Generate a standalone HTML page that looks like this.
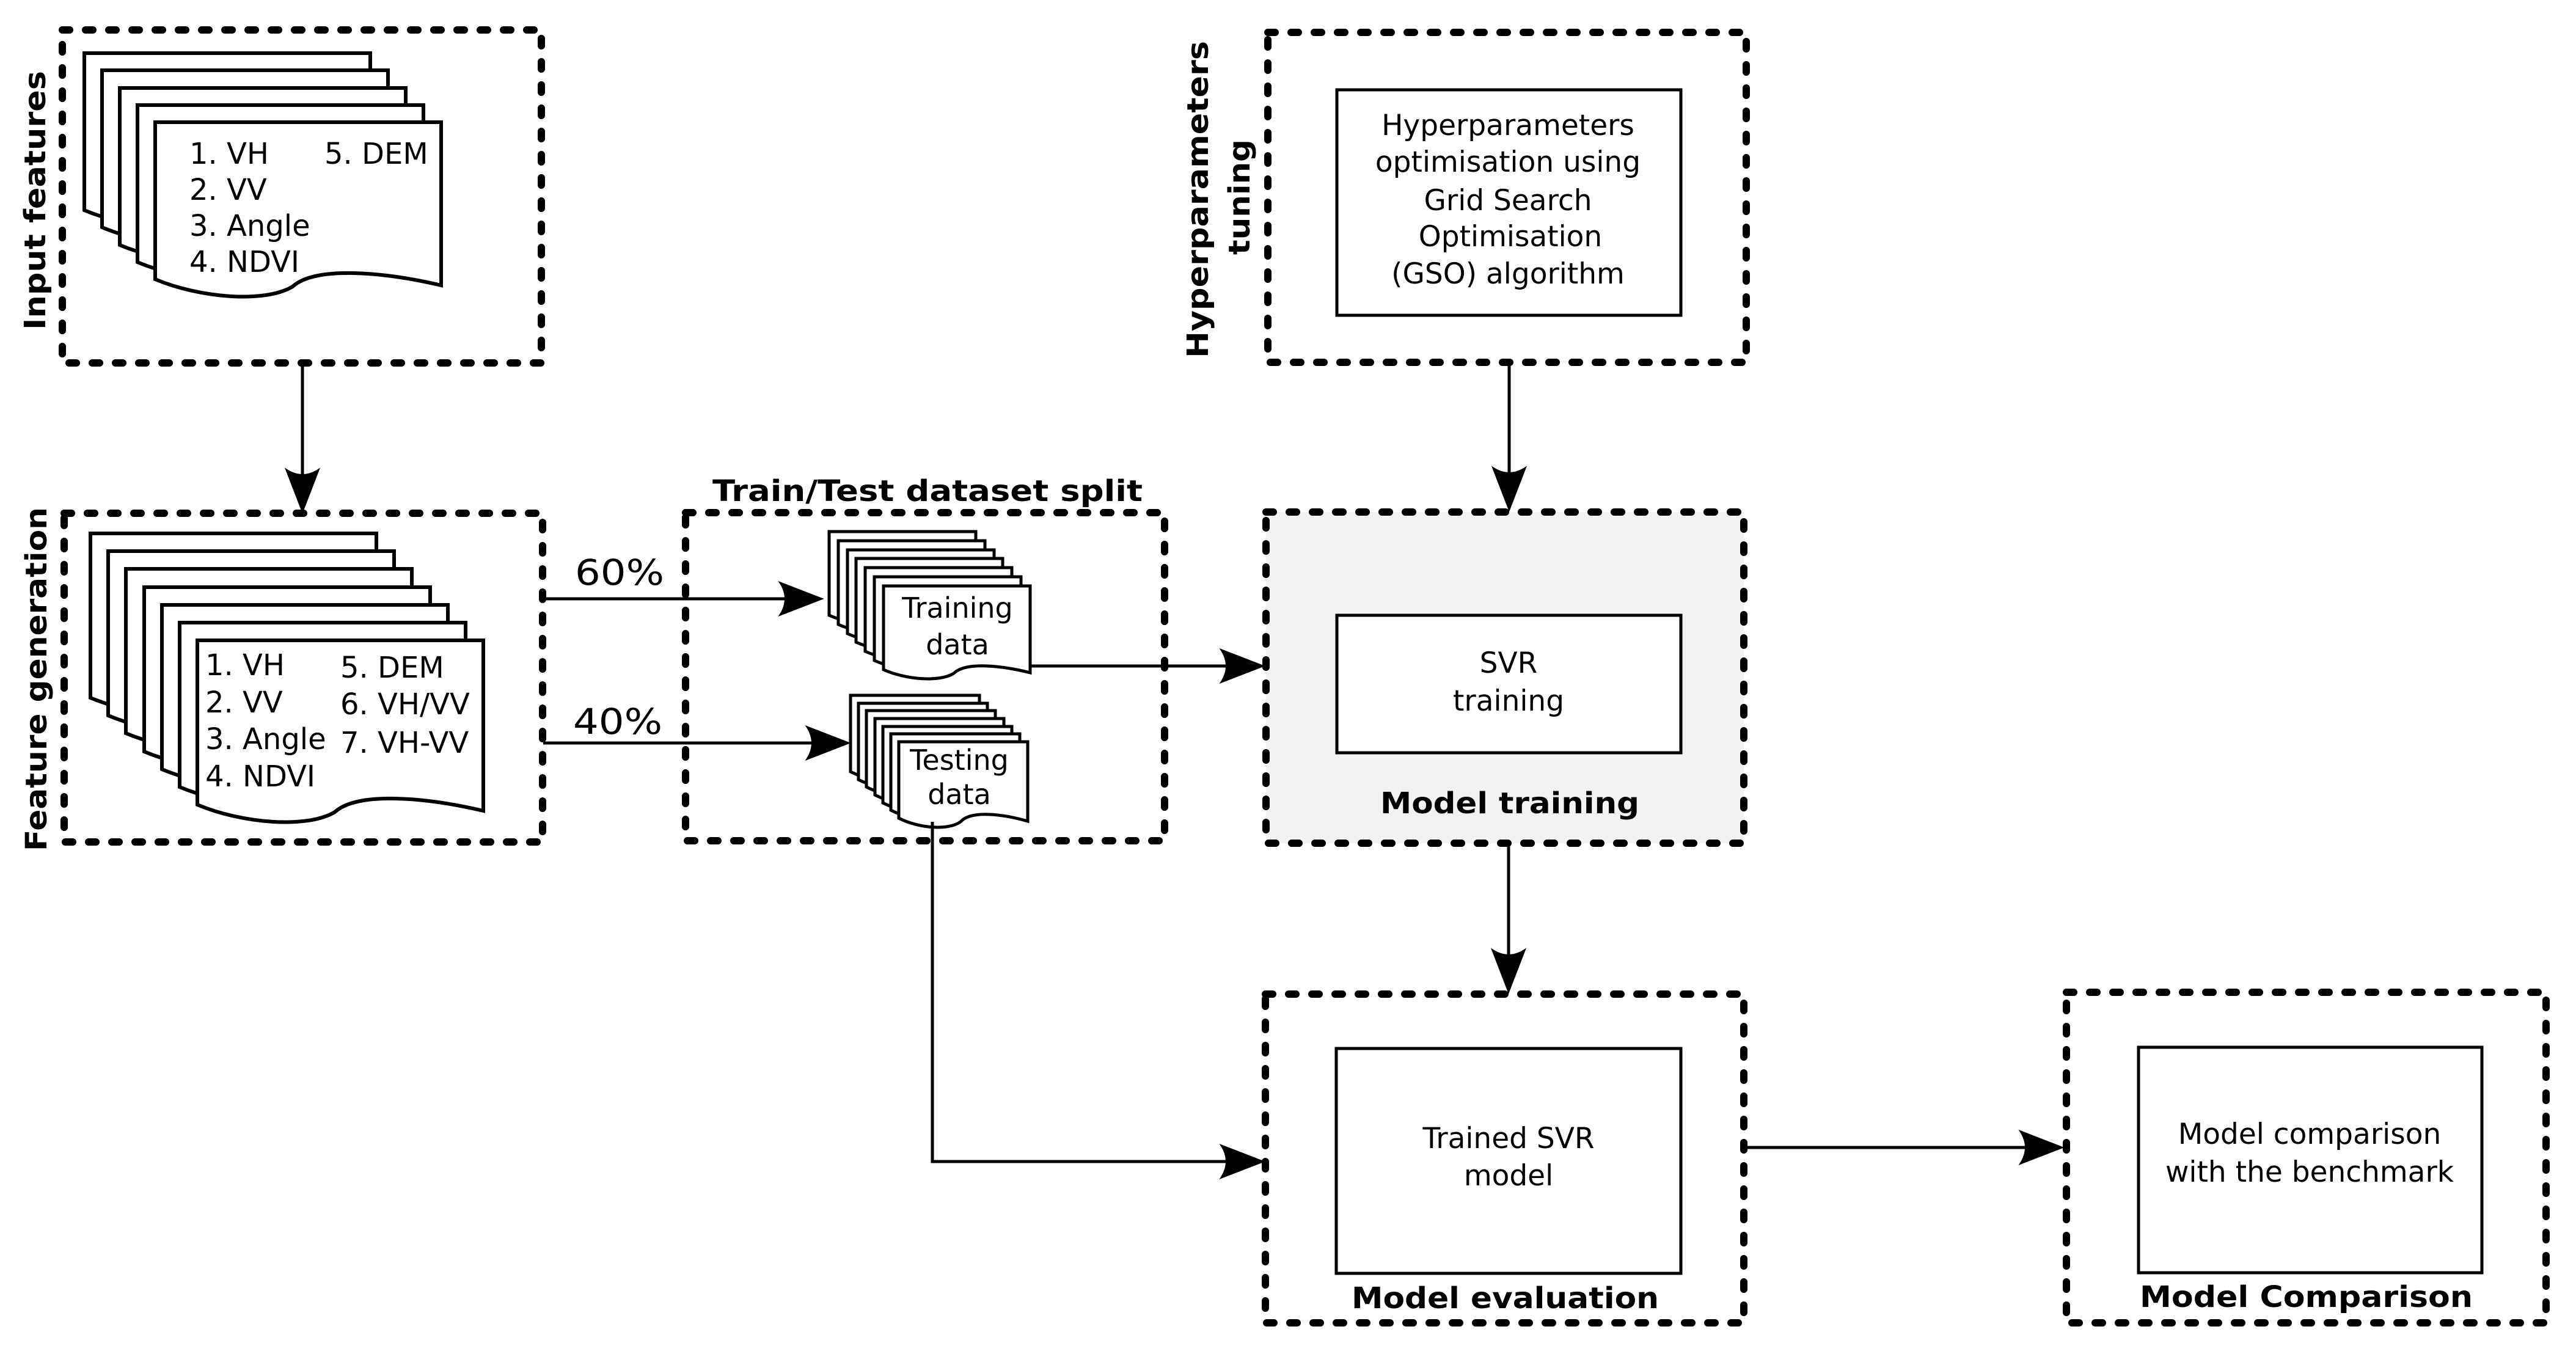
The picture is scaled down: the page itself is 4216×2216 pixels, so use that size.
<!DOCTYPE html>
<html><head><meta charset="utf-8"><style>html,body{margin:0;padding:0;background:#fff}svg{display:block}</style></head>
<body>
<svg xmlns="http://www.w3.org/2000/svg" width="4216" height="2216" viewBox="0 0 4216 2216" font-family="'DejaVu Sans','Liberation Sans',sans-serif">
<rect width="4216" height="2216" fill="#fff"/>
<g fill="#f2f2f2" stroke="none"><rect x="2072" y="838" width="782" height="542"/></g>
<g fill="none" stroke="#000" stroke-width="12" stroke-linecap="round" stroke-dasharray="12 26">
<rect x="102" y="49" width="784" height="545"/>
<rect x="105" y="840" width="783" height="538"/>
<rect x="1122" y="839" width="784" height="537"/>
<rect x="2075" y="53" width="783" height="540"/>
<rect x="2072" y="838" width="782" height="542"/>
<rect x="2071" y="1627" width="783" height="538"/>
<rect x="3382" y="1624" width="785" height="541"/>
</g>
<g fill="#fff" stroke="#000" stroke-width="5">
<rect x="2188" y="147" width="563" height="369"/>
<rect x="2188" y="1007" width="563" height="225"/>
<rect x="2187" y="1716" width="564" height="368"/>
<rect x="3500" y="1714" width="562" height="369"/>
</g>
<g fill="#fff" stroke="#000" stroke-width="6" stroke-linejoin="miter">
<path d="M138 87 h468 v267 c-94,-22 -206,-32 -243,2 c-47,28 -154,18 -225,-12 z"/>
<path d="M167 115 h468 v267 c-94,-22 -206,-32 -243,2 c-47,28 -154,18 -225,-12 z"/>
<path d="M196 144 h468 v267 c-94,-22 -206,-32 -243,2 c-47,28 -154,18 -225,-12 z"/>
<path d="M225 172 h468 v267 c-94,-22 -206,-32 -243,2 c-47,28 -154,18 -225,-12 z"/>
<path d="M254 200 h468 v267 c-94,-22 -206,-32 -243,2 c-47,28 -154,18 -225,-12 z"/>
</g>
<g fill="#fff" stroke="#000" stroke-width="6">
<path d="M148 873 h468 v279 c-94,-22 -206,-32 -243,2 c-47,28 -154,18 -225,-12 z"/>
<path d="M177 902 h468 v279 c-94,-22 -206,-32 -243,2 c-47,28 -154,18 -225,-12 z"/>
<path d="M206 931 h468 v279 c-94,-22 -206,-32 -243,2 c-47,28 -154,18 -225,-12 z"/>
<path d="M236 961 h468 v279 c-94,-22 -206,-32 -243,2 c-47,28 -154,18 -225,-12 z"/>
<path d="M265 990 h468 v279 c-94,-22 -206,-32 -243,2 c-47,28 -154,18 -225,-12 z"/>
<path d="M294 1019 h468 v279 c-94,-22 -206,-32 -243,2 c-47,28 -154,18 -225,-12 z"/>
<path d="M323 1048 h468 v279 c-94,-22 -206,-32 -243,2 c-47,28 -154,18 -225,-12 z"/>
</g>
<g fill="#fff" stroke="#000" stroke-width="5">
<path d="M1357 870 h240 v142 c-48,-12 -106,-18 -125,1 c-24,15 -79,10 -115,-6 z"/>
<path d="M1372 885 h240 v142 c-48,-12 -106,-18 -125,1 c-24,15 -79,10 -115,-6 z"/>
<path d="M1387 900 h240 v142 c-48,-12 -106,-18 -125,1 c-24,15 -79,10 -115,-6 z"/>
<path d="M1401 914 h240 v142 c-48,-12 -106,-18 -125,1 c-24,15 -79,10 -115,-6 z"/>
<path d="M1416 929 h240 v142 c-48,-12 -106,-18 -125,1 c-24,15 -79,10 -115,-6 z"/>
<path d="M1431 944 h240 v142 c-48,-12 -106,-18 -125,1 c-24,15 -79,10 -115,-6 z"/>
<path d="M1446 959 h240 v142 c-48,-12 -106,-18 -125,1 c-24,15 -79,10 -115,-6 z"/>
</g>
<g fill="#fff" stroke="#000" stroke-width="5">
<path d="M1392 1138 h211 v130 c-42,-12 -93,-18 -110,1 c-21,15 -70,10 -101,-6 z"/>
<path d="M1405 1151 h211 v130 c-42,-12 -93,-18 -110,1 c-21,15 -70,10 -101,-6 z"/>
<path d="M1418 1163 h211 v130 c-42,-12 -93,-18 -110,1 c-21,15 -70,10 -101,-6 z"/>
<path d="M1432 1176 h211 v130 c-42,-12 -93,-18 -110,1 c-21,15 -70,10 -101,-6 z"/>
<path d="M1445 1189 h211 v130 c-42,-12 -93,-18 -110,1 c-21,15 -70,10 -101,-6 z"/>
<path d="M1458 1201 h211 v130 c-42,-12 -93,-18 -110,1 c-21,15 -70,10 -101,-6 z"/>
<path d="M1471 1214 h211 v130 c-42,-12 -93,-18 -110,1 c-21,15 -70,10 -101,-6 z"/>
</g>
<g fill="none" stroke="#000" stroke-width="5">
<line x1="495" y1="594" x2="495" y2="800"/>
<line x1="889" y1="980" x2="1300" y2="980"/>
<line x1="889" y1="1216" x2="1345" y2="1216"/>
<line x1="1686" y1="1090" x2="2025" y2="1090"/>
<polyline points="1526,1345 1526,1901 2025,1901"/>
<line x1="2470" y1="593" x2="2470" y2="795"/>
<line x1="2469" y1="1380" x2="2469" y2="1585"/>
<line x1="2854" y1="1878" x2="3335" y2="1878"/>
</g>
<g fill="#000" stroke="#000" stroke-width="2">
<path d="M495 838 l-27,-70 q27,18 54,0 z"/>
<path d="M1346 980 l-70,-27 q18,27 0,54 z"/>
<path d="M1390 1216 l-70,-27 q18,27 0,54 z"/>
<path d="M2068 1090 l-70,-27 q18,27 0,54 z"/>
<path d="M2068 1901 l-70,-27 q18,27 0,54 z"/>
<path d="M2470 835 l-27,-70 q27,18 54,0 z"/>
<path d="M2469 1624 l-27,-70 q27,18 54,0 z"/>
<path d="M3376 1878 l-70,-27 q18,27 0,54 z"/>
</g>
<g fill="#000" font-size="48">
<text x="310" y="268">1. VH</text>
<text x="531" y="268">5. DEM</text>
<text x="310" y="327">2. VV</text>
<text x="310" y="386">3. Angle</text>
<text x="310" y="445">4. NDVI</text>
<text x="336" y="1105">1. VH</text>
<text x="557" y="1109">5. DEM</text>
<text x="336" y="1166">2. VV</text>
<text x="557" y="1169">6. VH/VV</text>
<text x="336" y="1226">3. Angle</text>
<text x="557" y="1232">7. VH-VV</text>
<text x="336" y="1287">4. NDVI</text>
<text x="941" y="957" font-size="58" textLength="146" lengthAdjust="spacingAndGlyphs">60%</text>
<text x="938" y="1201" font-size="58" textLength="146" lengthAdjust="spacingAndGlyphs">40%</text>
</g>
<g fill="#000" font-size="46" text-anchor="middle">
<text x="1567" y="1011">Training</text>
<text x="1567" y="1071">data</text>
<text x="1570" y="1260">Testing</text>
<text x="1570" y="1316">data</text>
</g>
<g fill="#000" font-size="47" text-anchor="middle">
<text x="2468" y="221">Hyperparameters</text>
<text x="2468" y="281">optimisation using</text>
<text x="2468" y="344">Grid Search</text>
<text x="2472" y="403">Optimisation</text>
<text x="2468" y="464">(GSO) algorithm</text>
<text x="2469" y="1101">SVR</text>
<text x="2469" y="1163">training</text>
<text x="2469" y="1879">Trained SVR</text>
<text x="2469" y="1940">model</text>
<text x="3780" y="1872">Model comparison</text>
<text x="3780" y="1934">with the benchmark</text>
</g>
<g fill="#000" font-size="48" font-weight="bold">
<text x="1166" y="820" textLength="704" lengthAdjust="spacingAndGlyphs">Train/Test dataset split</text>
<text x="2259" y="1331" textLength="424" lengthAdjust="spacingAndGlyphs">Model training</text>
<text x="2212" y="2141" textLength="503" lengthAdjust="spacingAndGlyphs">Model evaluation</text>
<text x="3502" y="2139" textLength="545" lengthAdjust="spacingAndGlyphs">Model Comparison</text>
<text transform="translate(74,540) rotate(-90)" textLength="424" lengthAdjust="spacingAndGlyphs">Input features</text>
<text transform="translate(76,1393) rotate(-90)" textLength="563" lengthAdjust="spacingAndGlyphs">Feature generation</text>
<text transform="translate(1977,586) rotate(-90)" textLength="519" lengthAdjust="spacingAndGlyphs">Hyperparameters</text>
<text transform="translate(2045,417) rotate(-90)" textLength="189" lengthAdjust="spacingAndGlyphs">tuning</text>
</g>
</svg>
</body></html>
